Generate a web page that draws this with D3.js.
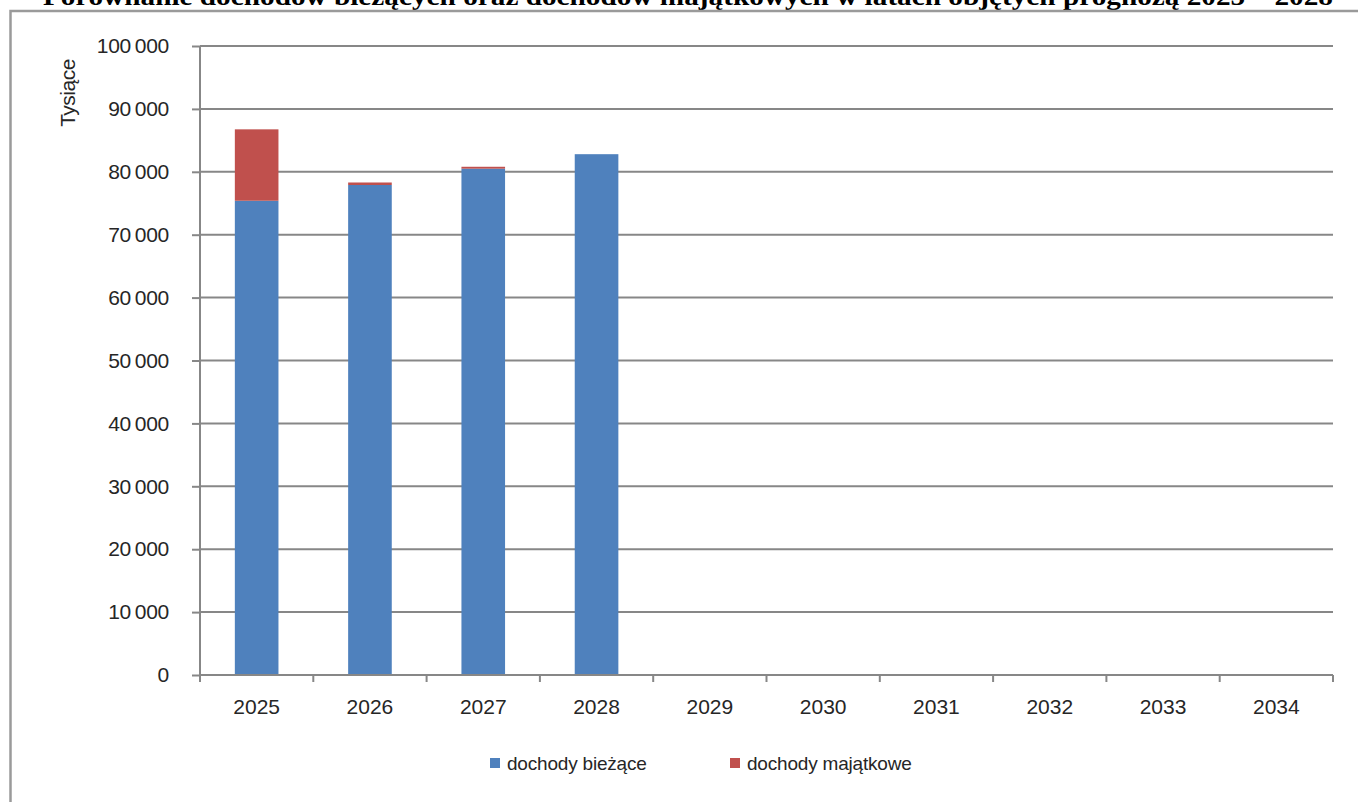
<!DOCTYPE html>
<html lang="pl">
<head>
<meta charset="utf-8">
<title>Dochody bieżące i majątkowe</title>
<script src="https://cdn.jsdelivr.net/npm/d3@7"></script>
<style>
  html, body { margin: 0; padding: 0; background: #fff; }
  svg { display: block; }
  text { font-family: "Liberation Sans", Arial, sans-serif; fill: #262626; }
</style>
</head>
<body>
<svg id="chart" width="1358" height="802"></svg>
<script>
// Lata prognozy i wartości (w tysiącach zł)
const years = ["2025", "2026", "2027", "2028", "2029", "2030", "2031", "2032", "2033", "2034"];
const dochodyBiezace = [75400, 77900, 80500, 82800, null, null, null, null, null, null];
const dochodyMajatkowe = [11350, 400, 300, 0, null, null, null, null, null, null];
const yTicks = [0, 10000, 20000, 30000, 40000, 50000, 60000, 70000, 80000, 90000, 100000];
const seriesNames = ["dochody bieżące", "dochody majątkowe"];
const seriesColors = ["#4F81BD", "#C0504D"];
const titleText = "Porównanie dochodów bieżących oraz dochodów majątkowych w latach objętych prognozą 2025 – 2028";

const svg = d3.select("#chart");
const W = 1358, H = 802;
const plot = { left: 200, right: 1333, top: 46, bottom: 675 };
const axisColor = "#878787";

// Tytuł (przycięty u góry strony)
svg.append("text")
  .attr("x", 43).attr("y", 5)
  .attr("textLength", 1290)
  .attr("lengthAdjust", "spacingAndGlyphs")
  .style("font-family", "'Liberation Serif', 'Times New Roman', serif")
  .style("font-weight", "bold")
  .style("font-size", "26px")
  .style("fill", "#000")
  .text(titleText);

// Ramka wykresu
svg.append("rect")
  .attr("x", 10.5).attr("y", 11)
  .attr("width", W + 20).attr("height", H + 20)
  .attr("fill", "none")
  .attr("stroke", "#9a9a9a")
  .attr("stroke-width", 2.5);

const x = d3.scaleBand().domain(years).range([plot.left, plot.right]).padding(0);
const y = d3.scaleLinear().domain([0, 100000]).range([plot.bottom, plot.top]);
const fmt = v => d3.format(",")(v).replace(/,/g, "\u2009");

// Linie siatki
svg.append("g")
  .selectAll("line")
  .data(yTicks.filter(t => t > 0))
  .join("line")
  .attr("x1", plot.left).attr("x2", plot.right)
  .attr("y1", d => y(d)).attr("y2", d => y(d))
  .attr("stroke", axisColor).attr("stroke-width", 2);

// Słupki skumulowane
const rows = years.map((yr, i) => ({ year: yr, b: dochodyBiezace[i], m: dochodyMajatkowe[i] }))
  .filter(r => r.b != null);
const barW = x.bandwidth() * 0.385;
const bars = svg.append("g");
rows.forEach(r => {
  const cx = x(r.year) + x.bandwidth() / 2;
  bars.append("rect")
    .attr("x", cx - barW / 2).attr("width", barW)
    .attr("y", y(r.b)).attr("height", y(0) - y(r.b))
    .attr("fill", seriesColors[0]);
  if (r.m > 0) {
    bars.append("rect")
      .attr("x", cx - barW / 2).attr("width", barW)
      .attr("y", y(r.b + r.m)).attr("height", y(r.b) - y(r.b + r.m))
      .attr("fill", seriesColors[1]);
  }
});

// Oś Y
const yAxis = svg.append("g").attr("transform", `translate(${plot.left},0)`)
  .call(d3.axisLeft(y).tickValues(yTicks).tickSize(8).tickPadding(23).tickFormat(fmt));
yAxis.select(".domain").attr("stroke", axisColor).attr("stroke-width", 2)
  .attr("d", `M0,${plot.top}V${plot.bottom}`);
yAxis.selectAll(".tick line").attr("stroke", axisColor).attr("stroke-width", 2);
yAxis.selectAll(".tick text")
  .style("font-size", "21px").style("fill", "#262626")
  .style("font-family", "'Liberation Sans', Arial, sans-serif")
  .attr("letter-spacing", "-0.3");

// Oś X
const xAxisG = svg.append("g").attr("transform", `translate(0,${plot.bottom})`);
xAxisG.append("line")
  .attr("x1", plot.left).attr("x2", plot.right)
  .attr("y1", 0).attr("y2", 0)
  .attr("stroke", axisColor).attr("stroke-width", 2);
const boundaries = years.map(yv => x(yv)).concat([plot.right]);
xAxisG.selectAll("line.tk")
  .data(boundaries)
  .join("line").attr("class", "tk")
  .attr("x1", d => d).attr("x2", d => d)
  .attr("y1", 0).attr("y2", 7)
  .attr("stroke", axisColor).attr("stroke-width", 2);
xAxisG.selectAll("text.lbl")
  .data(years)
  .join("text").attr("class", "lbl")
  .attr("x", d => x(d) + x.bandwidth() / 2)
  .attr("y", 39)
  .attr("text-anchor", "middle")
  .style("font-size", "21px")
  .text(d => d);

// Tytuł osi Y
svg.append("text")
  .attr("transform", "translate(75,93) rotate(-90)")
  .attr("text-anchor", "middle")
  .style("font-size", "21px")
  .attr("letter-spacing", "-0.5")
  .text("Tysiące");

// Legenda
const legendX = [490, 730];
const legend = svg.append("g");
seriesNames.forEach((name, i) => {
  legend.append("rect")
    .attr("x", legendX[i]).attr("y", 758)
    .attr("width", 10).attr("height", 10)
    .attr("fill", seriesColors[i]);
  legend.append("text")
    .attr("x", legendX[i] + 17).attr("y", 770)
    .style("font-size", "19px")
    .attr("letter-spacing", "-0.2")
    .text(name);
});
</script>
</body>
</html>
